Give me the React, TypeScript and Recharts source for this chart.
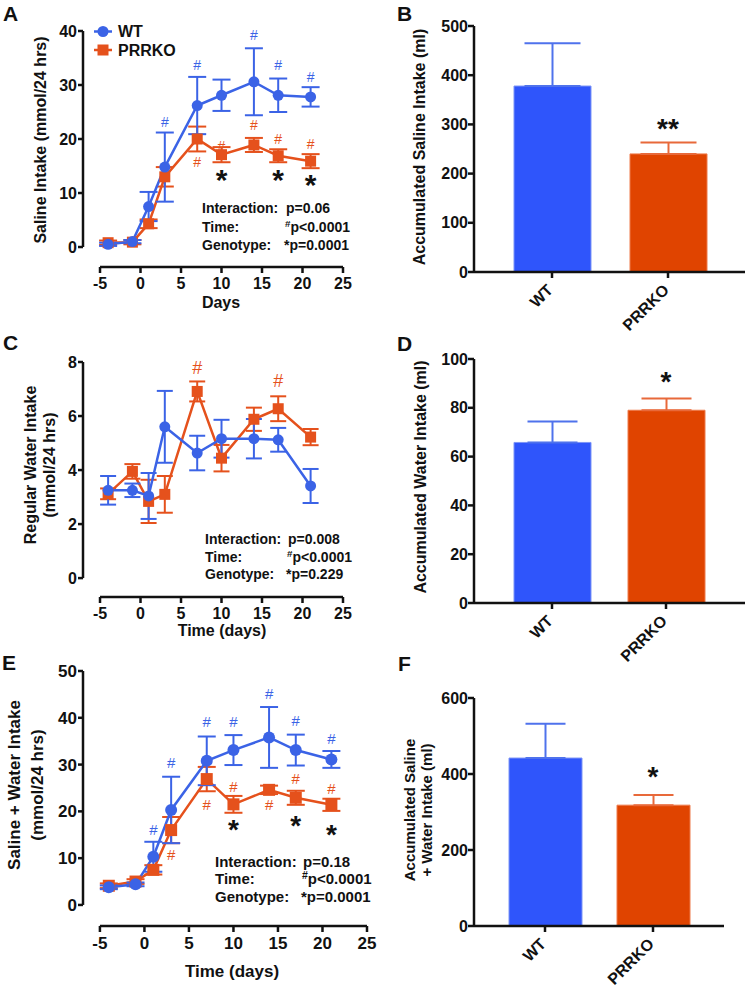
import React from "react";
import {
  ComposedChart,
  Bar,
  Line,
  XAxis,
  YAxis,
  ErrorBar,
  ReferenceLine,
  ReferenceDot,
  Cell,
} from "recharts";

const FONT = "'Liberation Sans', Arial, Helvetica, sans-serif";
const INK = "#111";
const BLUE = "#3B63E6";
const ORANGE = "#E5511C";
const BAR_BLUE = "#2F55FB";
const BAR_ORANGE = "#E04400";

// sampling days and the two genotypes
const DAYS = [-4, -1, 1, 3, 7, 10, 14, 17, 21];
const DAY_TICKS = [-5, 0, 5, 10, 15, 20, 25];
const GROUPS = ["WT", "PRRKO"];

// A - saline intake (mmol/24 hrs), mean and SEM
const SALINE_WT = [0.5, 1.0, 7.5, 14.8, 26.2, 28.1, 30.6, 28.1, 27.8];
const SALINE_WT_SEM = [0.3, 0.3, 2.7, 6.4, 5.3, 2.9, 6.2, 3.1, 1.8];
const SALINE_KO = [0.8, 0.9, 4.3, 13.0, 20.0, 17.1, 18.9, 16.9, 15.9];
const SALINE_KO_SEM = [0.4, 0.4, 0.8, 1.8, 2.3, 1.4, 1.3, 1.2, 1.3];
const SALINE_MARKS = [
  { day: 3, y: 23.2, s: "#", g: "wt" },
  { day: 7, y: 33.7, s: "#", g: "wt" },
  { day: 14, y: 39.3, s: "#", g: "wt" },
  { day: 17, y: 33.7, s: "#", g: "wt" },
  { day: 21, y: 31.4, s: "#", g: "wt" },
  { day: 7, y: 15.8, s: "#", g: "ko" },
  { day: 10, y: 18.8, s: "#", g: "ko" },
  { day: 14, y: 22.6, s: "#", g: "ko" },
  { day: 17, y: 20.1, s: "#", g: "ko" },
  { day: 21, y: 19.1, s: "#", g: "ko" },
  { day: 10, y: 13.6, s: "*", g: "sig" },
  { day: 17, y: 13.6, s: "*", g: "sig" },
  { day: 21, y: 12.7, s: "*", g: "sig" },
];

// C - regular water intake (mmol/24 hrs)
const WATER_WT = [3.25, 3.25, 3.04, 5.6, 4.63, 5.16, 5.16, 5.12, 3.41];
const WATER_WT_SEM = [0.53, 0.25, 0.85, 1.33, 0.64, 0.7, 0.73, 0.44, 0.63];
const WATER_KO = [3.12, 3.95, 2.84, 3.1, 6.91, 4.44, 5.88, 6.27, 5.22];
const WATER_KO_SEM = [0.2, 0.27, 0.8, 0.68, 0.37, 0.49, 0.43, 0.46, 0.3];
const WATER_MARKS = [
  { day: 7, y: 7.78, s: "#", g: "ko" },
  { day: 17, y: 7.33, s: "#", g: "ko" },
];

// E - saline + water intake (mmol/24 hrs)
const TOTAL_WT = [3.77, 4.4, 10.3, 20.3, 30.8, 33.1, 35.8, 33.1, 31.1];
const TOTAL_WT_SEM = [0.4, 0.4, 3.2, 7.1, 5.2, 3.2, 6.5, 3.3, 1.8];
const TOTAL_KO = [4.1, 5.0, 7.5, 16.0, 26.9, 21.5, 24.6, 22.9, 21.4];
const TOTAL_KO_SEM = [0.5, 0.5, 1.0, 2.8, 2.6, 1.8, 0.9, 1.5, 1.3];
const TOTAL_MARKS = [
  { day: 1, y: 16.0, s: "#", g: "wt" },
  { day: 3, y: 30.4, s: "#", g: "wt" },
  { day: 7, y: 39.2, s: "#", g: "wt" },
  { day: 10, y: 39.2, s: "#", g: "wt" },
  { day: 14, y: 45.2, s: "#", g: "wt" },
  { day: 17, y: 39.3, s: "#", g: "wt" },
  { day: 21, y: 35.6, s: "#", g: "wt" },
  { day: 10, y: 25.3, s: "#", g: "ko" },
  { day: 17, y: 27.1, s: "#", g: "ko" },
  { day: 21, y: 24.9, s: "#", g: "ko" },
  { day: 3, y: 10.7, s: "#", g: "ko" },
  { day: 7, y: 21.4, s: "#", g: "ko" },
  { day: 10, y: 21.4, s: "#", g: "ko" },
  { day: 14, y: 21.4, s: "#", g: "ko" },
  { day: 10, y: 17.5, s: "*", g: "sig" },
  { day: 17, y: 18.2, s: "*", g: "sig" },
  { day: 21, y: 16.4, s: "*", g: "sig" },
];

// B, D, F - accumulated intake (ml), mean and SEM per genotype
const ACC_SALINE = [378, 240];
const ACC_SALINE_SEM = [87, 23];
const ACC_SALINE_MARK = { group: "PRRKO", y: 305, s: "**" };
const ACC_WATER = [65.8, 79];
const ACC_WATER_SEM = [8.6, 4.8];
const ACC_WATER_MARK = { group: "PRRKO", y: 93.4, s: "*" };
const ACC_TOTAL = [442, 318];
const ACC_TOTAL_SEM = [90, 27];
const ACC_TOTAL_MARK = { group: "PRRKO", y: 410, s: "*" };

const courseRows = (wt: number[], wtSem: number[], ko: number[], koSem: number[]) =>
  DAYS.map((day, i) => ({ day, wt: wt[i], wtErr: wtSem[i], ko: ko[i], koErr: koSem[i] }));

const barRows = (vals: number[], sem: number[]) =>
  GROUPS.map((group, i) => ({
    group,
    value: vals[i],
    wtErr: i === 0 ? [0, sem[i]] : undefined,
    koErr: i === 1 ? [0, sem[i]] : undefined,
  }));

const markColor = (g: string) => (g === "wt" ? BLUE : g === "ko" ? ORANGE : INK);

function markShape(s: string, color: string, size: number) {
  // shift so the glyph (not the em box) sits on the point
  const lift = s === "#" ? 0.36 : 0.56;
  return (props: any) => (
    <text
      x={props.cx}
      y={props.cy + lift * size}
      textAnchor="middle"
      fill={color}
      fontSize={size}
      fontWeight={s === "#" ? 400 : 700}
      fontFamily={FONT}
    >
      {s}
    </text>
  );
}

const circleDot = (color: string, r: number) => (p: any) =>
  <circle key={`c${p.index}`} cx={p.cx} cy={p.cy} r={r} fill={color} />;

const squareDot = (color: string, r: number) => (p: any) =>
  <rect key={`s${p.index}`} x={p.cx - r} y={p.cy - r} width={2 * r} height={2 * r} fill={color} />;

function TimeCourse(p: any) {
  const tick = { fill: INK, fontSize: p.fs, fontWeight: 700, fontFamily: FONT };
  const tickLine = { stroke: INK, strokeWidth: 2.5 };
  return (
    <div style={{ position: "absolute", left: p.box[0], top: p.box[1] }}>
      <ComposedChart width={p.box[2]} height={p.box[3]} data={p.rows} margin={p.margin}>
        <XAxis
          type="number"
          dataKey="day"
          domain={[p.xMin, 25]}
          ticks={DAY_TICKS}
          interval={0}
          axisLine={false}
          tickLine={tickLine}
          tickSize={6}
          tickMargin={5}
          height={p.xAxisHeight}
          tick={tick}
        />
        <YAxis
          type="number"
          domain={[p.yMin, p.yMax]}
          ticks={p.yTicks}
          interval={0}
          axisLine={false}
          tickLine={tickLine}
          tickSize={5}
          tickMargin={1}
          width={50}
          tick={tick}
        />
        {/* Prism style detached axes */}
        <ReferenceLine
          segment={[{ x: p.xMin, y: 0 }, { x: p.xMin, y: p.yMax }]}
          stroke={INK}
          strokeWidth={2.5}
          ifOverflow="visible"
        />
        <ReferenceLine
          segment={[{ x: DAY_TICKS[0], y: p.yMin }, { x: 25, y: p.yMin }]}
          stroke={INK}
          strokeWidth={2.5}
          ifOverflow="visible"
        />
        <Line
          type="linear"
          dataKey="ko"
          stroke={ORANGE}
          strokeWidth={2.5}
          dot={squareDot(ORANGE, p.r)}
          activeDot={false}
          isAnimationActive={false}
        >
          <ErrorBar dataKey="koErr" width={p.cap} strokeWidth={2} stroke={ORANGE} direction="y" />
        </Line>
        <Line
          type="linear"
          dataKey="wt"
          stroke={BLUE}
          strokeWidth={2.5}
          dot={circleDot(BLUE, p.r)}
          activeDot={false}
          isAnimationActive={false}
        >
          <ErrorBar dataKey="wtErr" width={p.cap} strokeWidth={2} stroke={BLUE} direction="y" />
        </Line>
        {p.marks.map((m: any, i: number) => (
          <ReferenceDot
            key={i}
            x={m.day}
            y={m.y}
            r={0}
            ifOverflow="visible"
            shape={markShape(m.s, markColor(m.g), m.s === "#" ? p.hashSize : p.starSize)}
          />
        ))}
      </ComposedChart>
    </div>
  );
}

function SlantTick(props: any) {
  const { x, y, payload, fs } = props;
  const ax = x + 2;
  const ay = y + 11;
  return (
    <text
      x={ax}
      y={ay}
      transform={`rotate(-45 ${ax} ${ay})`}
      textAnchor="end"
      fill={INK}
      fontSize={fs}
      fontWeight={700}
      fontFamily={FONT}
    >
      {payload.value}
    </text>
  );
}

function Totals(p: any) {
  const tick = { fill: INK, fontSize: 16, fontWeight: 700, fontFamily: FONT };
  const line = { stroke: INK, strokeWidth: 2.5 };
  return (
    <div style={{ position: "absolute", left: p.box[0], top: p.box[1] }}>
      <ComposedChart width={p.box[2]} height={p.box[3]} data={p.rows} margin={p.margin}>
        <XAxis
          dataKey="group"
          type="category"
          padding={p.pad}
          axisLine={line}
          tickLine={line}
          tickSize={6}
          tickMargin={2}
          height={p.xAxisHeight}
          interval={0}
          tick={<SlantTick fs={16} />}
        />
        <YAxis
          type="number"
          domain={[0, p.yMax]}
          ticks={p.yTicks}
          interval={0}
          axisLine={line}
          tickLine={line}
          tickSize={6}
          tickMargin={0}
          width={60}
          tick={tick}
        />
        <Bar dataKey="value" barSize={p.barSize} isAnimationActive={false}>
          {p.rows.map((r: any, i: number) => (
            <Cell
              key={r.group}
              fill={i === 0 ? BAR_BLUE : BAR_ORANGE}
              stroke={i === 0 ? "#7D95F7" : "#EE7A4A"}
              strokeWidth={1}
            />
          ))}
          <ErrorBar dataKey="wtErr" width={p.cap} strokeWidth={2} stroke="#4F72EC" direction="y" />
          <ErrorBar dataKey="koErr" width={p.cap} strokeWidth={2} stroke="#E8693A" direction="y" />
        </Bar>
        <ReferenceDot
          x={p.mark.group}
          y={p.mark.y}
          r={0}
          ifOverflow="visible"
          shape={markShape(p.mark.s, INK, 28)}
        />
      </ComposedChart>
    </div>
  );
}

function VTitle({ x, y, lines, size, gap }: any) {
  return (
    <>
      {lines.map((t: string, i: number) => (
        <text
          key={t}
          transform={`translate(${x + i * gap},${y}) rotate(-90)`}
          textAnchor="middle"
          fontSize={size}
          fontWeight={700}
          fontFamily={FONT}
          fill={INK}
        >
          {t}
        </text>
      ))}
    </>
  );
}

function Stats({ x, xv, base, step, size, p }: any) {
  const common = { fontSize: size, fontWeight: 700, fontFamily: FONT, fill: INK };
  return (
    <>
      <text x={x} y={base} {...common}>Interaction:</text>
      <text x={xv + 1} y={base} {...common}>{p[0]}</text>
      <text x={x} y={base + step[0]} {...common}>Time:</text>
      <text x={xv} y={base + step[0]} {...common}>
        <tspan fontSize={size * 0.7} dy={-size * 0.35}>#</tspan>
        <tspan dy={size * 0.35}>{p[1]}</tspan>
      </text>
      <text x={x} y={base + step[1]} {...common}>Genotype:</text>
      <text x={xv - 1} y={base + step[1]} {...common}>{"*" + p[2]}</text>
    </>
  );
}

export default function App() {
  const letter = { fontSize: 21, fontWeight: 700, fontFamily: FONT, fill: INK };
  const title = { fontWeight: 700, fontFamily: FONT, fill: INK, textAnchor: "middle" as const };
  return (
    <div style={{ position: "absolute", left: 0, top: 0, width: 745, height: 990, background: "#fff" }}>
      <TimeCourse
        box={[0, 0, 372, 320]}
        margin={{ top: 31, right: 29, bottom: 3, left: 33 }}
        xAxisHeight={50}
        xMin={-7.1}
        yMin={-3.7}
        yMax={40}
        yTicks={[0, 10, 20, 30, 40]}
        rows={courseRows(SALINE_WT, SALINE_WT_SEM, SALINE_KO, SALINE_KO_SEM)}
        marks={SALINE_MARKS}
        fs={16}
        hashSize={14}
        starSize={30}
        cap={9}
        r={5.5}
      />
      <TimeCourse
        box={[0, 320, 372, 330]}
        margin={{ top: 42, right: 29, bottom: 3, left: 33 }}
        xAxisHeight={50}
        xMin={-7.1}
        yMin={-0.7}
        yMax={8}
        yTicks={[0, 2, 4, 6, 8]}
        rows={courseRows(WATER_WT, WATER_WT_SEM, WATER_KO, WATER_KO_SEM)}
        marks={WATER_MARKS}
        fs={16}
        hashSize={18}
        starSize={28}
        cap={8}
        r={5.5}
      />
      <TimeCourse
        box={[0, 650, 385, 340]}
        margin={{ top: 21, right: 18, bottom: 4, left: 33 }}
        xAxisHeight={60}
        xMin={-6.9}
        yMin={-4.5}
        yMax={50}
        yTicks={[0, 10, 20, 30, 40, 50]}
        rows={courseRows(TOTAL_WT, TOTAL_WT_SEM, TOTAL_KO, TOTAL_KO_SEM)}
        marks={TOTAL_MARKS}
        fs={17}
        hashSize={15}
        starSize={28}
        cap={9}
        r={6}
      />
      <Totals
        box={[372, 0, 373, 360]}
        margin={{ top: 26, right: 0, bottom: 40, left: 42 }}
        xAxisHeight={48}
        pad={{ left: 20, right: 19 }}
        barSize={77}
        yMax={500}
        yTicks={[0, 100, 200, 300, 400, 500]}
        rows={barRows(ACC_SALINE, ACC_SALINE_SEM)}
        mark={ACC_SALINE_MARK}
        cap={28}
      />
      <Totals
        box={[372, 320, 373, 360]}
        margin={{ top: 39, right: 0, bottom: 30, left: 42 }}
        xAxisHeight={47}
        pad={{ left: 21, right: 22 }}
        barSize={77}
        yMax={100}
        yTicks={[0, 20, 40, 60, 80, 100]}
        rows={barRows(ACC_WATER, ACC_WATER_SEM)}
        mark={ACC_WATER_MARK}
        cap={25}
      />
      <Totals
        box={[372, 650, 373, 340]}
        margin={{ top: 48, right: 21, bottom: 0, left: 42 }}
        xAxisHeight={64}
        pad={{ left: 17, right: 17 }}
        barSize={73}
        yMax={600}
        yTicks={[0, 200, 400, 600]}
        rows={barRows(ACC_TOTAL, ACC_TOTAL_SEM)}
        mark={ACC_TOTAL_MARK}
        cap={20}
      />

      <svg
        width={745}
        height={990}
        style={{ position: "absolute", left: 0, top: 0, pointerEvents: "none" }}
      >
        <text x={3} y={21} {...letter}>A</text>
        <text x={397} y={21} {...letter}>B</text>
        <text x={3} y={350} {...letter}>C</text>
        <text x={397} y={351} {...letter}>D</text>
        <text x={2} y={670} {...letter}>E</text>
        <text x={398} y={671} {...letter}>F</text>

        {/* legend, panel A */}
        <line x1={94} x2={112} y1={31.5} y2={31.5} stroke={BLUE} strokeWidth={2.5} />
        <circle cx={103} cy={31.5} r={5.5} fill={BLUE} />
        <text x={118} y={37} fontSize={16} fontWeight={700} fontFamily={FONT} fill={INK}>WT</text>
        <line x1={94} x2={112} y1={50} y2={50} stroke={ORANGE} strokeWidth={2.5} />
        <rect x={97.5} y={44.5} width={11} height={11} fill={ORANGE} />
        <text x={118} y={56} fontSize={16} fontWeight={700} fontFamily={FONT} fill={INK}>PRRKO</text>

        <VTitle x={46} y={140} lines={["Saline Intake (mmol/24 hrs)"]} size={16} gap={0} />
        <VTitle x={425} y={147} lines={["Accumulated Saline Intake (ml)"]} size={16} gap={0} />
        <VTitle x={36} y={465} lines={["Regular Water Intake", "(mmol/24 hrs)"]} size={16} gap={19} />
        <VTitle x={426} y={477} lines={["Accumulated Water Intake (ml)"]} size={16} gap={0} />
        <VTitle x={20} y={785} lines={["Saline + Water Intake", "(mmol/24 hrs)"]} size={17} gap={23} />
        <VTitle x={415} y={810} lines={["Accumulated Saline", "+ Water Intake (ml)"]} size={15} gap={17} />

        <text x={221} y={308} fontSize={16} {...title}>Days</text>
        <text x={222} y={636} fontSize={16} {...title}>Time (days)</text>
        <text x={232} y={977} fontSize={17} {...title}>Time (days)</text>

        <Stats x={202} xv={285} base={213} step={[19, 37]} size={14} p={["p=0.06", "p<0.0001", "p=0.0001"]} />
        <Stats x={205} xv={287} base={544} step={[18, 35]} size={14} p={["p=0.008", "p<0.0001", "p=0.229"]} />
        <Stats x={215} xv={302} base={867} step={[17, 35]} size={15} p={["p=0.18", "p<0.0001", "p=0.0001"]} />
      </svg>
    </div>
  );
}
